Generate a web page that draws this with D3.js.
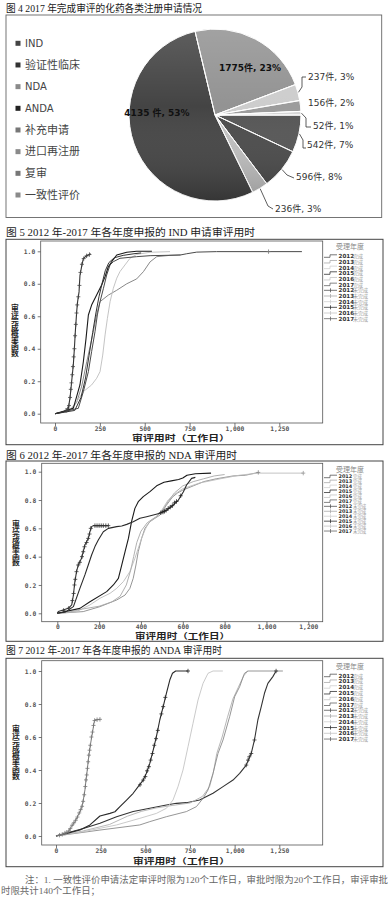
<!DOCTYPE html>
<html><head><meta charset="utf-8">
<script src="https://cdn.jsdelivr.net/npm/d3@7"></script>
<style>body{margin:0;background:#fff} svg{display:block}</style>
</head><body><svg id="c" width="390" height="900"></svg>
<script>
// ================= DATA =================
const chartTitles = [
  "图 4 2017 年完成审评的化药各类注册申请情况",
  "图 5 2012 年-2017 年各年度申报的 IND 申请审评用时",
  "图 6 2012 年-2017 年各年度申报的 NDA 审评用时",
  "图 7 2012 年-2017 年各年度申报的 ANDA 审评用时"
];
const footerLines = [
  "注：1. 一致性评价申请法定审评时限为120个工作日，审批时限为20个工作日，审评审批",
  "时限共计140个工作日；"
];
// pie (legend order)
const pieNames = ["IND","验证性临床","NDA","ANDA","补充申请","进口再注册","复审","一致性评价"];
const pieValues = [542,596,236,4135,1775,237,156,52];
const pieLabels = ["542件, 7%","596件, 8%","236件, 3%","4135 件, 53%","1775件, 23%","237件, 3%","156件, 2%","52件, 1%"];

// KM charts
const yearNames = ["2012","2013","2014","2015","2016","2017"];
const statusNames = ["完成","未完成"];
const legendTitle = "受理年度";
const yAxisTitle = "审评完成概率函数";
const xAxisTitle = "审评用时（工作日）";
const yTicks = [0,0.2,0.4,0.6,0.8,1.0];
const xTicksIND = [0,250,500,750,1000,1250];
const xTicksNDA = [0,200,400,600,800,1000,1200];
const xTicksANDA = [0,250,500,750,1000,1250];

// IND completion curves [days, probability]
const ind2012 = [[0,0],[84,0.02],[121,0.07],[149,0.17],[177,0.32],[205,0.46],[232,0.61],[251,0.69],[297,0.73],[344,0.76],[400,0.8],[455,0.83],[493,0.875],[530,0.935],[567,0.967],[640,0.975],[700,0.978]];
const ind2013 = [[0,0],[74,0.012],[121,0.074],[158,0.136],[204,0.177],[232,0.218],[251,0.259],[266,0.361],[279,0.485],[292,0.587],[307,0.69],[325,0.772],[344,0.834],[362,0.875],[390,0.916],[418,0.957],[455,0.981],[530,0.994],[641,0.998]];
const ind2014 = [[0,0],[130,0.033],[158,0.136],[186,0.259],[204,0.382],[223,0.505],[236,0.608],[251,0.69],[270,0.772],[288,0.854],[307,0.916],[325,0.936],[362,0.957],[455,0.967],[530,0.973],[697,0.977],[734,0.985],[790,0.995],[900,0.998],[1376,0.998]];
const ind2015 = [[0,0],[102,0.033],[139,0.177],[158,0.32],[173,0.464],[186,0.608],[204,0.669],[232,0.731],[260,0.793],[279,0.844],[297,0.905],[316,0.936],[344,0.977],[400,0.994],[455,1.0],[540,1.0]];
const ind2016 = [[0,0],[110,0.02],[145,0.1],[170,0.22],[190,0.36],[210,0.5],[228,0.62],[245,0.72],[262,0.8],[280,0.88],[300,0.93],[330,0.96],[380,0.975],[440,0.985],[480,0.99]];
const ind2017 = [[0,0],[28,0.006],[56,0.015],[74,0.03],[84,0.1],[93,0.2],[102,0.3],[108,0.4],[113,0.5],[121,0.63],[126,0.69],[134,0.75],[139,0.85],[149,0.91],[158,0.955],[173,0.97],[191,0.98],[199,0.985]];
const indCensor2014 = [[1190,0.998]];
const indCensor2017 = [[62,0.02],[70,0.03],[78,0.05],[84,0.1],[88,0.15],[92,0.19],[96,0.24],[100,0.29],[104,0.35],[108,0.4],[112,0.48],[116,0.55],[120,0.62],[124,0.67],[130,0.72],[136,0.79],[142,0.87],[150,0.92],[160,0.955],[176,0.972],[192,0.98]];

// NDA
const nda2012 = [[0,0],[124,0.012],[204,0.047],[284,0.094],[324,0.129],[347,0.176],[363,0.247],[376,0.341],[387,0.435],[403,0.529],[419,0.6],[443,0.647],[467,0.671],[491,0.694],[520,0.76],[550,0.82],[575,0.85],[600,0.87],[650,0.9],[700,0.93],[760,0.95],[840,0.97],[900,0.975],[961,0.995]];
const nda2013 = [[0,0],[92,0.012],[156,0.059],[204,0.106],[252,0.141],[284,0.176],[316,0.224],[347,0.294],[371,0.388],[387,0.459],[403,0.529],[419,0.588],[435,0.635],[451,0.659],[475,0.682],[500,0.73],[530,0.8],[560,0.84],[600,0.88],[680,0.92],[780,0.95],[870,0.975],[960,0.99],[1176,0.99]];
const nda2014 = [[0,0],[60,0.01],[120,0.03],[200,0.05],[260,0.08],[300,0.12],[330,0.2],[350,0.3],[365,0.4],[380,0.5],[400,0.58],[430,0.64],[470,0.68],[500,0.72],[530,0.79],[560,0.85],[600,0.9],[650,0.93],[700,0.95],[750,0.97],[800,0.98]];
const nda2015 = [[0,0],[108,0.035],[156,0.082],[236,0.153],[268,0.2],[292,0.247],[308,0.341],[324,0.435],[340,0.529],[355,0.647],[371,0.741],[387,0.788],[411,0.824],[443,0.859],[475,0.9],[510,0.925],[545,0.935],[580,0.945],[600,0.955],[620,0.975],[660,0.985],[735,0.99]];
const nda2016 = [[0,0],[40,0.01],[77,0.047],[108,0.176],[132,0.271],[148,0.341],[164,0.412],[180,0.471],[196,0.518],[220,0.576],[244,0.6],[284,0.612],[308,0.616],[332,0.628],[363,0.647],[395,0.671],[427,0.682],[459,0.694],[491,0.706],[523,0.729],[555,0.765],[579,0.8],[603,0.859],[618,0.906],[642,0.953],[660,0.96]];
const nda2017 = [[0,0],[5,0.012],[53,0.035],[69,0.059],[77,0.129],[84,0.224],[92,0.294],[100,0.341],[116,0.388],[124,0.435],[132,0.482],[148,0.529],[156,0.576],[164,0.612],[172,0.619],[244,0.619]];
const ndaCensor2012 = [[961,0.995]];
const ndaCensor2013 = [[1176,0.99]];
const ndaCensor2016 = [[495,0.71],[505,0.715],[512,0.72],[520,0.727],[530,0.74],[540,0.75],[550,0.76],[560,0.78],[570,0.79],[590,0.83]];
const ndaCensor2017 = [[30,0.02],[55,0.036],[72,0.09],[78,0.14],[82,0.2],[86,0.24],[92,0.294],[100,0.341],[108,0.36],[118,0.4],[124,0.435],[130,0.47],[140,0.5],[148,0.529],[154,0.56],[160,0.6],[180,0.619],[190,0.619],[200,0.619],[210,0.619],[220,0.619],[232,0.619],[244,0.619]];

// ANDA
const anda2012 = [[0,0],[153,0.046],[246,0.077],[339,0.117],[432,0.148],[525,0.168],[618,0.188],[674,0.198],[730,0.202],[804,0.218],[879,0.259],[935,0.299],[991,0.339],[1028,0.38],[1065,0.43],[1093,0.501],[1111,0.582],[1130,0.703],[1149,0.784],[1167,0.865],[1186,0.925],[1214,0.966],[1232,1.0]];
const anda2013 = [[0,0],[150,0.03],[300,0.07],[400,0.12],[480,0.15],[560,0.17],[650,0.185],[750,0.2],[820,0.24],[860,0.3],[880,0.38],[900,0.5],[930,0.6],[960,0.72],[990,0.83],[1020,0.9],[1050,0.97],[1074,1.0]];
const anda2014 = [[0,0],[246,0.036],[469,0.067],[525,0.087],[618,0.117],[730,0.148],[786,0.178],[823,0.228],[851,0.279],[879,0.38],[907,0.501],[935,0.582],[972,0.723],[1000,0.844],[1028,0.905],[1055,0.986],[1074,1.0],[1270,1.0]];
const anda2015 = [[0,0],[153,0.026],[339,0.067],[469,0.107],[562,0.137],[618,0.168],[655,0.218],[683,0.299],[711,0.4],[739,0.541],[767,0.683],[795,0.824],[823,0.925],[851,0.986],[879,1.0],[934,1.0]];
const anda2016 = [[0,0],[60,0.016],[134,0.036],[190,0.067],[246,0.121],[302,0.137],[330,0.147],[358,0.178],[395,0.218],[432,0.259],[460,0.299],[488,0.339],[506,0.38],[525,0.44],[544,0.521],[562,0.602],[581,0.703],[600,0.784],[618,0.865],[637,0.945],[652,0.986],[670,1.0],[739,1.0]];
const anda2017 = [[0,0],[41,0.012],[69,0.026],[87,0.057],[106,0.087],[125,0.127],[143,0.168],[153,0.218],[162,0.279],[168,0.339],[175,0.4],[181,0.461],[186,0.501],[194,0.562],[205,0.632],[214,0.693],[218,0.703],[246,0.707]];
const andaCensor2012 = [[1065,0.43],[1075,0.46],[1082,0.48],[1093,0.5],[1111,0.582],[1232,1.0]];
const andaCensor2016 = [[470,0.31],[488,0.339],[500,0.36],[510,0.395],[520,0.42],[530,0.46],[540,0.5],[550,0.55],[560,0.59],[570,0.64],[590,0.74],[600,0.784],[612,0.84],[739,1.0]];
const andaCensor2017 = [[20,0.005],[35,0.01],[50,0.018],[60,0.022],[72,0.03],[80,0.045],[90,0.065],[100,0.08],[110,0.095],[120,0.115],[130,0.14],[138,0.16],[146,0.18],[152,0.21],[158,0.25],[164,0.3],[168,0.34],[172,0.37],[176,0.41],[180,0.45],[184,0.49],[188,0.52],[192,0.55],[198,0.6],[204,0.63],[210,0.67],[216,0.7],[230,0.705],[246,0.707]];

// ================= STYLE / LAYOUT =================
const SERIF = "'Liberation Serif','Noto Sans CJK SC',serif";
const CJK = "'Noto Sans CJK SC',sans-serif";
const SANS = "'DejaVu Sans','Noto Sans CJK SC',sans-serif";
const pieColors = ["#555555","#4a4a4a","#c2c2c2","#444444","#939393","#cdcdcd","#9c9c9c","#d6d6d6"];
const pieLegendColors = ["#444","#333","#8a8a8a","#222","#777","#8a8a8a","#777","#8a8a8a"];
const yearLegendColors = ["#555","#aaa","#d0d0d0","#333","#c4c4c4","#666"];

const svg = d3.select("#c");
const defs = svg.append("defs");
const g1 = defs.append("linearGradient").attr("id","shade").attr("x1",0).attr("y1",0).attr("x2",0).attr("y2",1);
g1.append("stop").attr("offset","0").attr("stop-color","#fff").attr("stop-opacity",0.14);
g1.append("stop").attr("offset","0.45").attr("stop-color","#fff").attr("stop-opacity",0);
g1.append("stop").attr("offset","1").attr("stop-color","#000").attr("stop-opacity",0.22);

function fitText(txt, x, y, len, size, fill, family, weight) {
  return svg.append("text").attr("x",x).attr("y",y).attr("font-family",family||SERIF)
    .attr("font-size",size).attr("fill",fill||"#222").attr("font-weight",weight||"normal")
    .attr("textLength",len).attr("lengthAdjust","spacingAndGlyphs").text(txt);
}

// ---------- titles & footer ----------
fitText(chartTitles[0], 6, 12, 196, 10, "#1a1a1a");
fitText(chartTitles[1], 6, 236, 249, 10, "#1a1a1a");
fitText(chartTitles[2], 6, 459, 231, 10, "#1a1a1a");
fitText(chartTitles[3], 6, 654, 216, 10, "#1a1a1a");
fitText(footerLines[0], 25, 882.5, 363, 9, "#666", SERIF);
fitText(footerLines[1], 1, 893.5, 99, 9, "#666", SERIF);

// ---------- pie ----------
svg.append("rect").attr("x",6).attr("y",15).attr("width",375.7).attr("height",202.5)
  .attr("fill","none").attr("stroke","#666").attr("stroke-width",0.9);
const pcx = 215, pcy = 115, pr = 86;
const pie = d3.pie().sort(null).value(d => d).startAngle(Math.PI/2).endAngle(Math.PI/2 + 2*Math.PI);
const arcs = pie(pieValues);
const arc = d3.arc().innerRadius(0).outerRadius(pr);
const pg = svg.append("g").attr("transform",`translate(${pcx},${pcy})`);
pg.selectAll("path.s").data(arcs).join("path").attr("class","s")
  .attr("d",arc).attr("fill",(d,i)=>pieColors[i]).attr("stroke","#fff").attr("stroke-width",0.9);
pg.append("circle").attr("r",pr).attr("fill","url(#shade)");
pg.selectAll("path.s2").data(arcs).join("path").attr("class","s2")
  .attr("d",arc).attr("fill","none").attr("stroke","#fff").attr("stroke-width",0.7).attr("stroke-opacity",0.8);

// pie legend
const legRow = d3.scaleLinear().domain([0,7]).range([43.3,195]);
pieNames.forEach((n,i)=>{
  const y = legRow(i);
  svg.append("rect").attr("x",15.5).attr("y",y-2.5).attr("width",5).attr("height",5).attr("fill",pieLegendColors[i]);
  svg.append("text").attr("x",25).attr("y",y+3.6).attr("font-family",/[A-Z]/.test(n)?SANS:CJK)
    .attr("font-size",/[A-Z]/.test(n)?10:11).attr("fill","#444").text(n);
});

// pie labels: layout [anchor, x, y, bold]
const pieLabelLayout = [
  ["start",307,148,false],
  ["start",296,180,false],
  ["start",275,212,false],
  ["middle",157,116,true],
  ["middle",250,70.5,true],
  ["start",308,79.5,false],
  ["start",308,105.5,false],
  ["start",313,128.5,false]
];
const leaderBends = [
  [[303,140],[303,148],[306,148]],
  [[287,175],[294,178]],
  [[268,206],[273,209]],
  null,
  null,
  [[302,87],[302,77],[306,77]],
  null,
  [[306,118],[306,127],[311,127]]
];
arcs.forEach((a,i)=>{
  const L = pieLabelLayout[i];
  svg.append("text").attr("x",L[1]).attr("y",L[2]).attr("text-anchor",L[0])
    .attr("font-family",SANS).attr("font-size",9).attr("font-weight",L[3]?"bold":"normal")
    .attr("fill",L[3]?"#111":"#333").text(pieLabels[i]);
  if (leaderBends[i]) {
    const mid = (a.startAngle + a.endAngle)/2;
    const p0 = [pcx + (pr+0.5)*Math.sin(mid), pcy - (pr+0.5)*Math.cos(mid)];
    svg.append("path").attr("d", d3.line()([p0, ...leaderBends[i]]))
      .attr("fill","none").attr("stroke","#333").attr("stroke-width",0.8);
  }
});

// ---------- KM charts ----------
function kmChart(cfg) {
  const [fx0,fy0,fx1,fy1] = cfg.frame;
  const [px0,py0,px1,py1] = cfg.plot;
  svg.append("rect").attr("x",fx0).attr("y",fy0).attr("width",fx1-fx0).attr("height",fy1-fy0)
    .attr("fill","none").attr("stroke","#444").attr("stroke-width",1);
  const x = d3.scaleLinear().domain([cfg.xTicks[0], cfg.xTicks[cfg.xTicks.length-1]]).range(cfg.xRange);
  const y = d3.scaleLinear().domain([0,1]).range(cfg.yRange);
  const g = svg.append("g");
  g.append("rect").attr("x",px0).attr("y",py0).attr("width",px1-px0).attr("height",py1-py0)
    .attr("fill","none").attr("stroke","#555").attr("stroke-width",0.8);
  const ax = g.append("g").attr("transform",`translate(${px0},0)`)
    .call(d3.axisLeft(y).tickValues(yTicks).tickSize(3).tickPadding(2.5).tickFormat(d3.format(".1f")));
  const bx = g.append("g").attr("transform",`translate(0,${py1})`)
    .call(d3.axisBottom(x).tickValues(cfg.xTicks).tickSize(3).tickPadding(cfg.xPad));
  [ax,bx].forEach(a=>{
    a.select(".domain").remove();
    a.selectAll("line").attr("stroke","#555").attr("stroke-width",0.8);
    a.selectAll("text").attr("font-family","'DejaVu Sans Mono',monospace").attr("font-size",6.3)
      .attr("font-weight","bold").attr("fill","#555");
  });
  const line = d3.line().x(d=>x(d[0])).y(d=>y(d[1])).curve(d3.curveLinear);
  cfg.series.forEach((s,i)=>{
    g.append("path").attr("d",line(s)).attr("fill","none").attr("stroke",cfg.colors[i])
      .attr("stroke-width",cfg.widths[i]).attr("stroke-linejoin","round");
  });
  cfg.censors.forEach(c=>{
    g.selectAll(null).data(c.pts).join("path")
      .attr("d",d=>{const cx=x(d[0]), cy=y(d[1]); return `M${cx-2},${cy}H${cx+2}M${cx},${cy-2.2}V${cy+2.2}`;})
      .attr("stroke",c.color).attr("stroke-width",0.8).attr("fill","none");
  });
  // vertical y-axis title: single text in vertical writing mode
  const [tx, ty0, ty1] = cfg.yTitle;
  svg.append("text").attr("transform",`translate(${tx},${ty0-3.5}) scale(1.2,1)`)
    .attr("x",0).attr("y",0).attr("writing-mode","tb").style("text-orientation","upright")
    .attr("font-family",CJK).attr("font-size",6.5).attr("font-weight","bold").attr("fill","#222")
    .attr("textLength", ty1-ty0+7).attr("lengthAdjust","spacingAndGlyphs").text(yAxisTitle);
  fitText(xAxisTitle, cfg.xTitle[0], cfg.xTitle[2], cfg.xTitle[1]-cfg.xTitle[0], 8, "#222", CJK, "bold");
  // legend
  const [lt, l0, lstep] = cfg.legend;
  const fs = Math.min(5.6, lstep*1.0);
  svg.append("text").attr("x",350).attr("y",lt+2.5).attr("text-anchor","middle").attr("font-family",CJK)
    .attr("font-size",7).attr("fill","#888").text(legendTitle);
  statusNames.forEach((st,si)=>{
    yearNames.forEach((yr,yi)=>{
      const k = si*6+yi, yy = l0 + k*lstep, col = yearLegendColors[yi];
      if (si===0) {
        svg.append("path").attr("d",`M324,${yy+1}H330V${yy-1.5}H337`).attr("fill","none").attr("stroke",col).attr("stroke-width",0.8);
      } else {
        svg.append("path").attr("d",`M324,${yy}H337M330.5,${yy-2}V${yy+2}`).attr("fill","none").attr("stroke",col).attr("stroke-width",0.8);
      }
      svg.append("text").attr("x",338.5).attr("y",yy+fs*0.36).attr("font-family","'DejaVu Sans',sans-serif")
        .attr("font-size",fs).attr("font-weight","bold").attr("fill","#333").text(yr);
      svg.append("text").attr("x",353).attr("y",yy+fs*0.36).attr("font-family",CJK)
        .attr("font-size",fs*0.9).attr("fill","#999").text(st);
    });
  });
}

kmChart({
  frame:[6,239.3,383,444.7], plot:[40.7,241,322.7,423],
  xTicks:xTicksIND, xRange:[55,279.3], yRange:[413.7,251.3], xPad:0.5,
  series:[ind2012,ind2013,ind2014,ind2015,ind2016,ind2017],
  colors:["#7a7a7a","#bdbdbd","#4a4a4a","#1a1a1a","#333","#333"],
  widths:[0.9,0.9,1,1.1,1,1.1],
  censors:[{pts:indCensor2014,color:"#777"},{pts:indCensor2017,color:"#444"}],
  yTitle:[15,308,353], xTitle:[132,230,441],
  legend:[246,256.3,5.67]
});
kmChart({
  frame:[6,461,383,641.3], plot:[41.7,463.3,322.7,621.7],
  xTicks:xTicksNDA, xRange:[57.3,308.3], yRange:[613.3,471.7], xPad:0,
  series:[nda2012,nda2013,nda2014,nda2015,nda2016,nda2017],
  colors:["#8a8a8a","#bcbcbc","#a8a8a8","#1a1a1a","#2a2a2a","#333"],
  widths:[0.9,0.9,0.9,1.1,1.1,1.1],
  censors:[{pts:ndaCensor2012,color:"#888"},{pts:ndaCensor2013,color:"#999"},{pts:ndaCensor2016,color:"#222"},{pts:ndaCensor2017,color:"#333"}],
  yTitle:[16,523,562], xTitle:[135,230,638.5],
  legend:[469,476.7,4.94]
});
kmChart({
  frame:[6,658.3,383,866.7], plot:[41.7,660.7,322.7,845],
  xTicks:xTicksANDA, xRange:[56,279.3], yRange:[836,671], xPad:0.6,
  series:[anda2012,anda2013,anda2014,anda2015,anda2016,anda2017],
  colors:["#333","#b0b0b0","#8a8a8a","#c4c4c4","#2a2a2a","#7a7a7a"],
  widths:[1.1,0.9,0.9,0.9,1.1,1],
  censors:[{pts:andaCensor2012,color:"#333"},{pts:andaCensor2016,color:"#2a2a2a"},{pts:andaCensor2017,color:"#777"}],
  yTitle:[16,728,776], xTitle:[133,230,863.5],
  legend:[666,675.7,5.76]
});
</script></body></html>
